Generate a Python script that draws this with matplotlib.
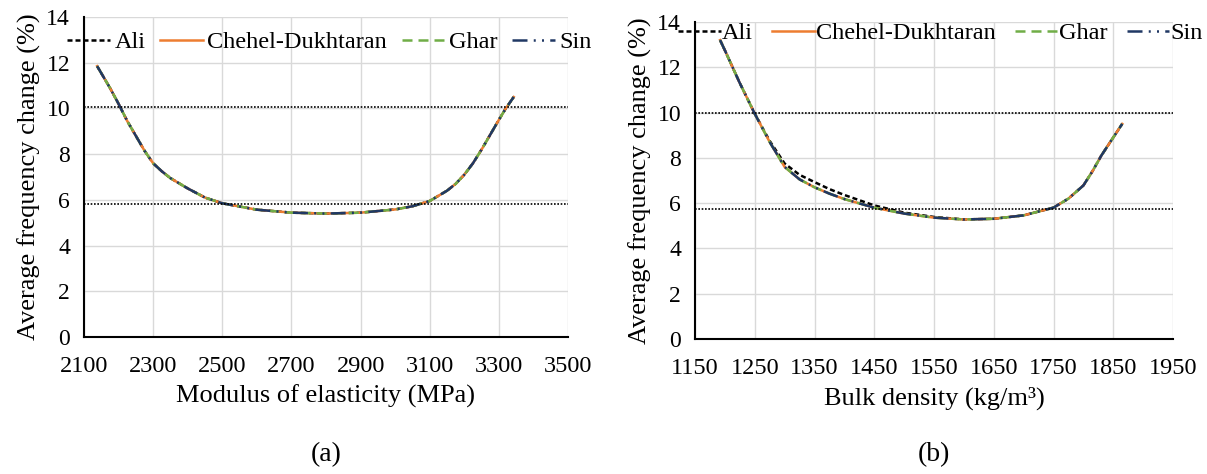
import numpy as np
import matplotlib
matplotlib.use("Agg")
import matplotlib.pyplot as plt

plt.rcParams["font.family"] = ["Liberation Serif", "DejaVu Serif"]

# (a) modulus of elasticity
E_mod = [2138, 2175, 2200, 2225, 2250, 2275, 2300, 2325, 2350, 2400, 2450,
         2500, 2600, 2700, 2800, 2900, 3000, 3050, 3100, 3150, 3175, 3200,
         3225, 3250, 3275, 3300, 3320, 3343]
ali_a = [11.85, 10.9, 10.2, 9.45, 8.8, 8.15, 7.6, 7.25, 6.95, 6.5, 6.1,
         5.85, 5.57, 5.44, 5.4, 5.44, 5.58, 5.72, 5.95, 6.4, 6.7, 7.1,
         7.6, 8.2, 8.85, 9.5, 10.0, 10.5]
chehel_a = [11.85, 10.9, 10.2, 9.45, 8.8, 8.15, 7.6, 7.25, 6.95, 6.5, 6.1,
            5.85, 5.57, 5.44, 5.4, 5.44, 5.58, 5.72, 5.95, 6.4, 6.7, 7.1,
            7.6, 8.2, 8.85, 9.5, 10.0, 10.5]
ghar_a = [11.85, 10.9, 10.2, 9.45, 8.8, 8.15, 7.6, 7.25, 6.95, 6.5, 6.1,
          5.85, 5.57, 5.44, 5.4, 5.44, 5.58, 5.72, 5.95, 6.4, 6.7, 7.1,
          7.6, 8.2, 8.85, 9.5, 10.0, 10.5]
sin_a = [11.85, 10.9, 10.2, 9.45, 8.8, 8.15, 7.6, 7.25, 6.95, 6.5, 6.1,
         5.85, 5.57, 5.44, 5.4, 5.44, 5.58, 5.72, 5.95, 6.4, 6.7, 7.1,
         7.6, 8.2, 8.85, 9.5, 10.0, 10.5]
hlines_a = [10.05, 5.8]

# (b) bulk density
rho = [1192, 1200, 1225, 1250, 1275, 1300, 1325, 1350, 1375, 1400, 1450,
       1500, 1550, 1600, 1650, 1700, 1750, 1775, 1800, 1815, 1830, 1850, 1865]
ali_b = [13.2, 12.75, 11.3, 9.95, 8.75, 7.75, 7.25, 6.93, 6.62, 6.36, 5.9,
         5.58, 5.39, 5.28, 5.31, 5.46, 5.8, 6.2, 6.78, 7.4, 8.1, 8.9, 9.5]
chehel_b = [13.2, 12.75, 11.3, 9.95, 8.7, 7.6, 7.05, 6.7, 6.42, 6.18, 5.8,
            5.54, 5.36, 5.28, 5.31, 5.46, 5.8, 6.2, 6.78, 7.4, 8.1, 8.9, 9.5]
ghar_b = [13.2, 12.75, 11.3, 9.95, 8.7, 7.6, 7.05, 6.7, 6.42, 6.18, 5.8,
          5.54, 5.36, 5.28, 5.31, 5.46, 5.8, 6.2, 6.78, 7.4, 8.1, 8.9, 9.5]
sin_b = [13.2, 12.75, 11.3, 9.95, 8.7, 7.6, 7.05, 6.7, 6.42, 6.18, 5.8,
         5.54, 5.36, 5.28, 5.31, 5.46, 5.8, 6.2, 6.78, 7.4, 8.1, 8.9, 9.5]
hlines_b = [10.0, 5.75]

names = ["Ali", "Chehel-Dukhtaran", "Ghar", "Sin"]
styles = [dict(color="black", ls=(0, (2.0, 1.2))),
          dict(color="#ED7D31", ls="-"),
          dict(color="#70AD47", ls=(0, (4, 2.4))),
          dict(color="#203864", ls=(0, (6, 2.5, 0.8, 2.5, 0.8, 2.5)))]

fig = plt.figure(figsize=(12.07, 4.74), dpi=100)
ax1 = fig.add_axes([84 / 1207, 1 - 337 / 474, 484 / 1207, 320 / 474])
ax2 = fig.add_axes([695 / 1207, 1 - 339 / 474, 478 / 1207, 317 / 474])


def draw(ax, x, series, hl, xticks, xlabel):
    for ys, nm, st in zip(series, names, styles):
        ax.plot(x, ys, lw=1.8, label=nm, solid_joinstyle="round",
                dash_joinstyle="round", **st)
    for h in hl:
        ax.axhline(h, color="black", lw=1.2, ls=(0, (1, 1)))
    ax.set_xlim(xticks[0], xticks[-1])
    ax.set_ylim(0, 14)
    ax.set_xticks(xticks)
    ax.set_yticks(range(0, 15, 2))
    ax.grid(True, color="#D9D9D9", lw=1.0)
    ax.set_axisbelow(True)
    for s in ["top", "right"]:
        ax.spines[s].set_visible(False)
    ax.spines["left"].set_linewidth(1.5)
    ax.spines["bottom"].set_linewidth(1.5)
    ax.tick_params(axis="x", length=0, labelsize=17.5, pad=14)
    ax.tick_params(axis="y", length=0, labelsize=17, pad=10)
    ax.set_xlabel(xlabel, fontsize=19, labelpad=5)
    ax.set_ylabel("Average frequency change (%)", fontsize=19, labelpad=4)


draw(ax1, E_mod, [ali_a, chehel_a, ghar_a, sin_a], hlines_a,
     list(range(2100, 3501, 200)), "Modulus of elasticity (MPa)")
draw(ax2, rho, [ali_b, chehel_b, ghar_b, sin_b], hlines_b,
     list(range(1150, 1951, 100)), "Bulk density (kg/m³)")

ax1.legend(loc="center left", bbox_to_anchor=(67 / 1207, 1 - 42 / 474),
           bbox_transform=fig.transFigure, ncol=4, frameon=False,
           fontsize=17.5, handlelength=1.75, handletextpad=0.2,
           columnspacing=0.6, borderpad=0, borderaxespad=0)
ax2.legend(loc="center left", bbox_to_anchor=(678 / 1207, 1 - 33 / 474),
           bbox_transform=fig.transFigure, ncol=4, frameon=False,
           fontsize=17.5, handlelength=1.75, handletextpad=0.05,
           columnspacing=0.8, borderpad=0, borderaxespad=0)

fig.text(326 / 1207, 1 - 455 / 474, "(a)", ha="center", va="center", fontsize=20)
fig.text(934 / 1207, 1 - 455 / 474, "(b)", ha="center", va="center", fontsize=20)

fig.savefig("out.png", dpi=100)
